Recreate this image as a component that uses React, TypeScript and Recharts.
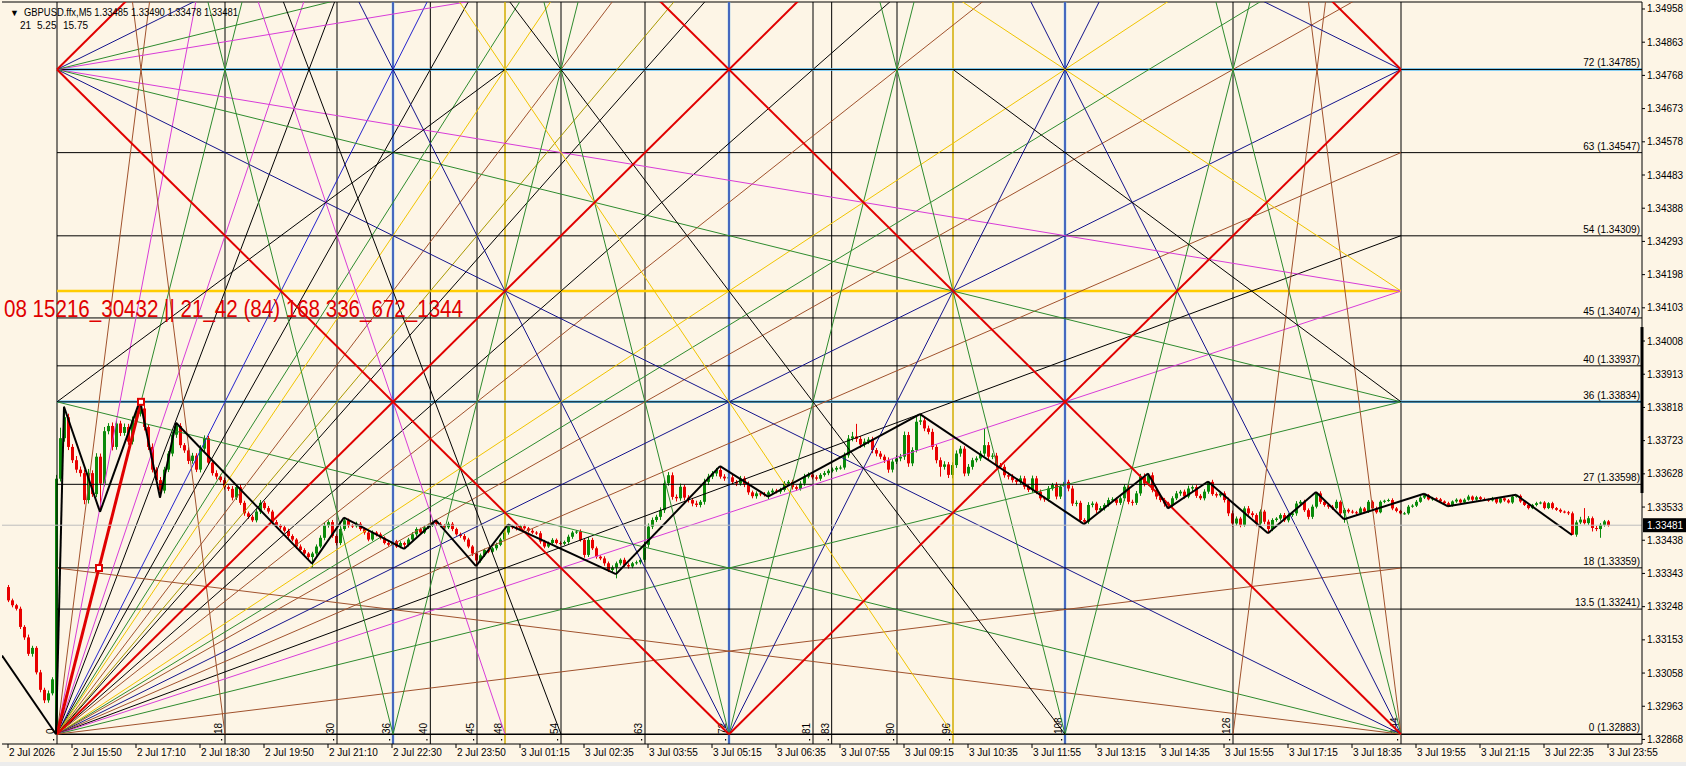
import React from 'react';
import { ComposedChart, Bar, XAxis, YAxis, ReferenceLine, ReferenceDot } from 'recharts';

// ---------------- data ----------------
const symbolHeader = 'GBPUSD.ffx,M5  1.33485 1.33490 1.33478 1.33481';
const subHeader = ['21', '5.25', '15.75'];
const redNote = '08 15216_30432 || 21_42 (84) 168 336_672_1344';

const timeLabels = [
  '2 Jul 2026', '2 Jul 15:50', '2 Jul 17:10', '2 Jul 18:30', '2 Jul 19:50', '2 Jul 21:10', '2 Jul 22:30',
  '2 Jul 23:50', '3 Jul 01:15', '3 Jul 02:35', '3 Jul 03:55', '3 Jul 05:15', '3 Jul 06:35', '3 Jul 07:55',
  '3 Jul 09:15', '3 Jul 10:35', '3 Jul 11:55', '3 Jul 13:15', '3 Jul 14:35', '3 Jul 15:55', '3 Jul 17:15',
  '3 Jul 18:35', '3 Jul 19:55', '3 Jul 21:15', '3 Jul 22:35', '3 Jul 23:55',
];
const timeTickBars = [0, 16, 32, 48, 64, 80, 96, 112, 128, 144, 160, 176, 192, 208, 224, 240, 256, 272, 288, 304, 320, 336, 352, 368, 384, 400];

const priceTicks = [
  1.34958, 1.34863, 1.34768, 1.34673, 1.34578, 1.34483, 1.34388, 1.34293, 1.34198, 1.34103, 1.34008, 1.33913,
  1.33818, 1.33723, 1.33628, 1.33533, 1.33438, 1.33343, 1.33248, 1.33153, 1.33058, 1.32963, 1.32868,
];

const gannTimeMarks = [0, 18, 30, 36, 40, 45, 48, 54, 63, 72, 81, 83, 90, 96, 108, 126, 144];
const gannLevelUnits = [72, 63, 54, 45, 40, 36, 27, 18, 13.5, 0];
const gannLevelPrices = [1.34785, 1.34547, 1.34309, 1.34074, 1.33937, 1.33834, 1.33598, 1.33359, 1.33241, 1.32883];

// closes in points: price = 1 + v / 100000  (33266 -> 1.33266)
const closes = [
  33266, 33252, 33242, 33190, 33160, 33113, 33130, 33060, 33010, 32980,
  33000, 33040, 33614, 33730, 33790, 33705, 33667, 33640, 33630, 33553,
  33630, 33570, 33677, 33600, 33750, 33765, 33705, 33772, 33745, 33762,
  33720, 33780, 33800, 33815, 33762, 33705, 33640, 33610, 33580, 33640,
  33686, 33740, 33765, 33710, 33695, 33665, 33680, 33640, 33700, 33730,
  33660, 33630, 33620, 33610, 33590, 33585, 33560, 33590, 33545, 33515,
  33505, 33495, 33520, 33545, 33530, 33520, 33490, 33480, 33475, 33465,
  33450, 33440, 33420, 33410, 33400, 33390, 33400, 33420, 33445, 33480,
  33490, 33450, 33430, 33470, 33495, 33480, 33478, 33485, 33470, 33460,
  33440, 33460, 33455, 33445, 33430, 33425, 33435, 33420, 33430, 33425,
  33440, 33455, 33470, 33460, 33475, 33480, 33490, 33485, 33480, 33475,
  33485, 33470, 33455, 33450, 33440, 33420, 33400, 33380, 33395, 33410,
  33405, 33415, 33425, 33440, 33460, 33478, 33475, 33470, 33478, 33472,
  33465, 33460, 33458, 33434, 33420, 33430, 33439, 33430, 33428, 33433,
  33448, 33460, 33463, 33439, 33396, 33439, 33415, 33391, 33386, 33372,
  33353, 33360, 33372, 33382, 33367, 33363, 33372, 33375, 33382, 33425,
  33477, 33496, 33505, 33524, 33601, 33624, 33562, 33558, 33591, 33560,
  33553, 33543, 33539, 33548, 33605, 33620, 33629, 33639, 33620, 33615,
  33618, 33605, 33600, 33615, 33598, 33575, 33564, 33572, 33570, 33568,
  33575, 33580, 33577, 33582, 33600, 33605, 33590, 33585, 33600, 33620,
  33626, 33618, 33614, 33625, 33630, 33637, 33640, 33645, 33646, 33681,
  33729, 33735, 33728, 33712, 33720, 33726, 33696, 33686, 33677, 33667,
  33640, 33663, 33672, 33677, 33739, 33658, 33696, 33777, 33781, 33758,
  33748, 33705, 33667, 33648, 33655, 33625, 33653, 33686, 33700, 33629,
  33648, 33667, 33672, 33686, 33710, 33677, 33680, 33653, 33648, 33624,
  33620, 33610, 33605, 33615, 33591, 33582, 33615, 33577, 33558, 33556,
  33586, 33596, 33563, 33591, 33605, 33586, 33543, 33545, 33496, 33491,
  33539, 33543, 33524, 33530, 33539, 33553, 33555, 33545, 33558, 33591,
  33548, 33545, 33572, 33620, 33600, 33624, 33582, 33563, 33553, 33543,
  33538, 33558, 33572, 33577, 33563, 33586, 33590, 33565, 33558, 33577,
  33605, 33570, 33566, 33572, 33553, 33515, 33486, 33500, 33482, 33529,
  33515, 33510, 33486, 33520, 33491, 33470, 33496, 33500, 33510, 33495,
  33510, 33515, 33543, 33548, 33524, 33505, 33534, 33572, 33548, 33539,
  33534, 33530, 33548, 33515, 33525, 33520, 33518, 33515, 33529, 33520,
  33548, 33529, 33518, 33548, 33551, 33553, 33529, 33522, 33515, 33515,
  33534, 33537, 33548, 33560, 33567, 33555, 33558, 33555, 33549, 33544,
  33537, 33549, 33554, 33546, 33554, 33563, 33554, 33561, 33556, 33554,
  33552, 33558, 33546, 33558, 33552, 33546, 33563, 33565, 33549, 33539,
  33530, 33539, 33544, 33546, 33530, 33544, 33530, 33525, 33520, 33518,
  33515, 33454, 33489, 33497, 33487, 33501, 33473, 33470, 33482, 33492,
  33481,
];
const openOverrides = [[0, 33304], [12, 32890]];
const wickUp = [
  6, 5, 4, 6, 5, 8, 6, 5, 7, 6, 8, 6, 6, 30, 30, 10, 8, 12, 9, 10,
  12, 8, 10, 9, 12, 8, 10, 9, 8, 10, 9, 12, 10, 18, 9, 8, 10, 7, 9, 8,
  7, 9, 7, 8, 6, 9, 8, 7, 10, 8, 7, 6, 8, 6, 7, 5, 8, 6, 7, 6,
  5, 6, 7, 8, 5, 6, 5, 6, 4, 5, 6, 5, 4, 6, 5, 4, 5, 6, 7, 8,
  5, 6, 5, 7, 8, 5, 4, 6, 5, 4, 5, 6, 4, 5, 4, 5, 6, 4, 5, 4,
  5, 6, 5, 4, 6, 5, 7, 6, 5, 4, 6, 5, 4, 5, 6, 5, 4, 6, 5, 4,
  5, 4, 6, 5, 6, 5, 4, 5, 4, 5, 4, 5, 4, 6, 5, 4, 5, 4, 5, 4,
  6, 5, 4, 6, 5, 8, 6, 5, 4, 6, 5, 6, 5, 4, 6, 5, 4, 5, 6, 8,
  9, 7, 6, 8, 10, 9, 8, 7, 9, 6, 7, 6, 8, 5, 9, 8, 7, 6, 9, 7,
  6, 8, 5, 7, 6, 8, 5, 6, 5, 6, 5, 6, 5, 6, 7, 5, 6, 5, 7, 8,
  6, 5, 6, 5, 6, 5, 6, 5, 6, 8, 10, 13, 36, 8, 9, 7, 8, 6, 7, 6,
  8, 7, 9, 8, 10, 9, 8, 14, 18, 9, 8, 9, 7, 8, 9, 7, 8, 9, 8, 7,
  8, 7, 6, 8, 48, 9, 7, 8, 6, 7, 8, 7, 6, 8, 7, 6, 8, 7, 6, 5,
  7, 6, 8, 5, 7, 6, 8, 7, 6, 5, 8, 6, 5, 6, 5, 7, 6, 5, 6, 7,
  8, 6, 7, 8, 9, 5, 8, 6, 5, 6, 5, 6, 7, 5, 6, 8, 5, 6, 5, 7,
  1, 6, 5, 4, 6, 7, 8, 6, 5, 6, 7, 6, 5, 6, 5, 6, 5, 4, 5, 6,
  5, 6, 7, 5, 6, 5, 6, 4, 6, 5, 4, 5, 6, 4, 5, 4, 5, 4, 5, 4,
  5, 4, 5, 4, 3, 4, 5, 4, 3, 4, 5, 4, 5, 4, 4, 3, 4, 3, 4, 3,
  4, 3, 4, 3, 4, 5, 3, 4, 3, 4, 3, 4, 3, 4, 3, 4, 5, 3, 4, 3,
  4, 3, 4, 3, 4, 3, 4, 3, 4, 3, 4, 5, 6, 8, 33, 6, 5, 6, 5, 4,
  4,
];
const wickDn = [
  5, 6, 5, 6, 7, 6, 8, 6, 7, 8, 7, 6, 7, 8, 10, 9, 8, 9, 10, 12,
  10, 8, 9, 30, 8, 9, 10, 8, 9, 8, 9, 8, 9, 8, 10, 9, 8, 9, 20, 8,
  7, 8, 9, 8, 7, 9, 8, 7, 8, 9, 6, 7, 8, 6, 7, 6, 8, 7, 6, 7,
  6, 5, 6, 7, 5, 6, 7, 5, 6, 5, 6, 5, 7, 6, 5, 6, 29, 6, 5, 7,
  6, 5, 7, 6, 5, 6, 5, 4, 5, 6, 5, 4, 6, 5, 4, 5, 6, 4, 5, 12,
  5, 4, 6, 5, 4, 5, 4, 6, 5, 4, 5, 6, 4, 5, 6, 5, 7, 16, 6, 5,
  4, 5, 6, 4, 5, 6, 5, 4, 5, 4, 5, 4, 5, 6, 5, 4, 5, 4, 5, 4,
  5, 6, 4, 5, 8, 6, 5, 6, 5, 7, 6, 8, 31, 6, 5, 6, 5, 4, 6, 7,
  8, 7, 6, 9, 8, 7, 8, 9, 7, 8, 7, 8, 6, 7, 8, 9, 7, 8, 6, 7,
  8, 6, 7, 6, 8, 7, 6, 7, 6, 5, 12, 6, 5, 6, 5, 6, 7, 6, 5, 6,
  5, 6, 5, 6, 5, 6, 5, 6, 5, 6, 7, 8, 9, 10, 8, 7, 9, 8, 7, 8,
  9, 8, 7, 8, 9, 10, 8, 7, 9, 8, 7, 8, 9, 28, 8, 9, 10, 8, 9, 8,
  7, 8, 6, 7, 8, 9, 7, 8, 6, 7, 8, 7, 9, 8, 7, 6, 8, 7, 6, 8,
  7, 6, 8, 7, 6, 8, 7, 8, 9, 7, 6, 7, 8, 6, 7, 5, 6, 7, 6, 8,
  7, 8, 6, 7, 8, 6, 7, 8, 6, 9, 9, 6, 5, 7, 6, 5, 7, 6, 5, 6,
  6, 5, 6, 5, 7, 8, 9, 6, 7, 5, 6, 7, 8, 6, 7, 12, 6, 5, 6, 5,
  6, 5, 7, 6, 5, 7, 6, 5, 6, 5, 6, 5, 4, 6, 27, 5, 4, 5, 4, 5,
  4, 5, 4, 3, 4, 3, 5, 4, 3, 4, 4, 3, 4, 3, 4, 3, 4, 3, 4, 5,
  2, 3, 4, 3, 4, 3, 4, 3, 4, 3, 4, 3, 4, 3, 4, 3, 4, 3, 4, 3,
  4, 3, 4, 3, 4, 3, 4, 3, 4, 3, 5, 1, 6, 5, 4, 5, 10, 6, 25, 5,
  4,
];
// [bar, 'H' | 'L', points]
const extremes: Array<[number, string, number]> = [
  [12, 'L', 32883], [12, 'H', 33625], [13, 'H', 33760], [14, 'H', 33820], [15, 'H', 33800], [23, 'L', 33519],
  [33, 'H', 33838], [38, 'L', 33560], [42, 'H', 33774], [76, 'L', 33371], [84, 'H', 33503], [99, 'L', 33413],
  [107, 'H', 33495], [117, 'L', 33364], [125, 'H', 33483], [152, 'L', 33341], [178, 'H', 33650], [190, 'L', 33563],
  [211, 'H', 33748], [212, 'H', 33764], [227, 'H', 33791], [228, 'H', 33799], [233, 'L', 33620], [244, 'H', 33758],
  [269, 'L', 33484], [285, 'H', 33629], [290, 'L', 33529], [300, 'H', 33606], [315, 'L', 33458], [327, 'H', 33576],
  [334, 'L', 33498], [354, 'H', 33571], [360, 'L', 33535], [377, 'H', 33568], [391, 'L', 33453], [394, 'H', 33520],
  [396, 'L', 33463], [398, 'L', 33457],
];
// zigzag vertices [bar, points]
const zigzagPts = [
  [-1.5, 33108], [12, 32883], [14, 33820], [23, 33519], [33, 33838], [38, 33560], [42, 33774], [76, 33371],
  [84, 33503], [99, 33413], [107, 33495], [117, 33364], [125, 33483], [152, 33341], [178, 33650], [190, 33563],
  [228, 33799], [269, 33484], [285, 33629], [290, 33529], [300, 33606], [315, 33458], [327, 33576], [334, 33498],
  [354, 33571], [360, 33535], [377, 33568], [391, 33453],
];
const lastPrice = 1.33481;
const axisRangeBar = [1.34048, 1.33573];

// Gann grid anchors (time units 0..144, price units 0..72)
const gannBar0 = 12.25;
const gannBarsPerUnit = 7 / 3;
const gannPrice0 = 1.32883;
const gannPrice72 = 1.34785;
const originFanTargets = [
  [9, 72], [13.5, 72], [18, 72], [24, 72], [27, 72], [36, 72], [40, 72], [45, 72], [48, 72], [54, 72], [60, 72], [63, 72],
  [81, 72], [90, 72], [108, 72], [117, 72], [126, 72], [144, 72], [144, 63], [144, 54], [144, 48], [144, 36], [144, 18],
];
const originFanColors = [
  'brown', 'pink', 'green', 'pink', 'black', 'blue', 'black', 'green', 'yellow', 'brown', 'olive', 'black',
  'black', 'brown', 'yellow', 'green', 'brown', 'navy', 'brown', 'black', 'pink', 'green', 'brown',
];
const bottomRightFanTargets = [[135, 72], [126, 72], [108, 72], [0, 72], [0, 36], [0, 18]];
const bottomRightFanColors = ['brown', 'green', 'navy', 'navy', 'green', 'brown'];
const topLeftFanTargets = [[144, 48], [144, 36], [144, 96], [144, 108], [144, 144]];
const topLeftFanColors = ['pink', 'green', 'pink', 'green', 'navy'];
const redDiagonals = [[0, 0, 72, 72], [144, 0, 72, 72], [0, 72, 72, 0], [72, 0, 144, 72], [0, 72, 72, 144], [144, 72, 72, 144]];
// [from time on 0-line, to time on 72-line]
const bottomRays = [
  [18, 9], [36, 18], [36, 54], [48, 24], [54, 27], [72, 36], [72, 108], [72, 54], [72, 90], [96, 48],
  [108, 90], [108, 126], [108, 54], [126, 135],
];
const bottomRayColors = [
  'brown', 'green', 'green', 'pink', 'black', 'navy', 'navy', 'green', 'green', 'yellow',
  'green', 'green', 'black', 'brown',
];
const extraRays = [[144, 48, 108, 72]];
const extraRayColors = ['yellow'];
const extraSegments = [[96, 72, 144, 36], [48, 72, 0, 36], [144, 72, 0, 144]];
const extraColors = ['black', 'black', 'navy'];

// ---------------- styles ----------------
const BG = '#FDF5E6';
const FONT = '"Liberation Sans", Arial, sans-serif';
const PAL: Record<string, string> = {
  red: '#E00000', navy: '#14148C', blue: '#2424CC', green: '#2E8B2E', pink: '#D83CD8',
  brown: '#A0522D', yellow: '#F0C400', olive: '#A89800', black: '#000000',
};
const UP = '#0A8A0A';
const DN = '#E80000';

// ---------------- derived ----------------
const pts = (v: number) => (100000 + v) / 100000;
const candles = closes.map((c, i) => {
  const ov = openOverrides.find((o) => o[0] === i);
  const o = ov ? ov[1] : closes[i - 1];
  let h = Math.max(o, c) + (wickUp[i] ?? 0);
  let l = Math.min(o, c) - (wickDn[i] ?? 0);
  extremes.forEach(([b, k, p]) => {
    if (b === i) {
      if (k === 'H') h = Math.max(h, p);
      else l = Math.min(l, p);
    }
  });
  return { bar: i, open: pts(o), close: pts(c), high: pts(h), low: pts(l), range: [pts(l), pts(h)] };
});

const gx = (t: number) => gannBar0 + t * gannBarsPerUnit;
const gy = (v: number) => gannPrice0 + (v * (gannPrice72 - gannPrice0)) / 72;

type Seg = { t0: number; v0: number; t1: number; v1: number; color: string; w: number };
const segs: Seg[] = [];
const addRay = (t0: number, v0: number, t1: number, v1: number, color: string, w = 1) => {
  const dt = t1 - t0;
  const dv = v1 - v0;
  let s = Infinity;
  if (dt > 0) s = Math.min(s, (144 - t0) / dt);
  else if (dt < 0) s = Math.min(s, (0 - t0) / dt);
  if (dv < 0) s = Math.min(s, (0 - v0) / dv);
  else if (dv > 0) s = Math.min(s, (110 - v0) / dv);
  segs.push({ t0, v0, t1: t0 + s * dt, v1: v0 + s * dv, color, w });
};
originFanTargets.forEach(([t, v], i) => addRay(0, 0, t, v, PAL[originFanColors[i]]));
bottomRightFanTargets.forEach(([t, v], i) => addRay(144, 0, t, v, PAL[bottomRightFanColors[i]]));
topLeftFanTargets.forEach(([t, v], i) => addRay(0, 72, t, v, PAL[topLeftFanColors[i]]));
bottomRays.forEach(([a, b], i) => addRay(a, 0, b, 72, PAL[bottomRayColors[i]]));
extraRays.forEach(([a, b, c, d], i) => addRay(a, b, c, d, PAL[extraRayColors[i]]));
extraSegments.forEach(([a, b, c, d], i) => segs.push({ t0: a, v0: b, t1: c, v1: d, color: PAL[extraColors[i]], w: 1 }));
redDiagonals.forEach(([a, b, c, d]) => addRay(a, b, c, d, PAL.red, 2));

const vColor = (T: number) => (T === 36 || T === 72 || T === 108 ? '#101090' : T === 48 || T === 96 ? '#D2AC00' : '#000');

// ---------------- render helpers ----------------
const Candle = (props: any) => {
  const { x, y, width, height, payload } = props;
  if (x == null || y == null || !payload || !isFinite(x) || !isFinite(y)) return null;
  const top = Math.min(y, y + height);
  const bot = Math.max(y, y + height);
  const span = payload.high - payload.low;
  const k = span > 0 ? (bot - top) / span : 0;
  const py = (p: number) => top + (payload.high - p) * k;
  const col = payload.close >= payload.open ? UP : DN;
  const cx = Math.round(x + width / 2) + 0.5;
  const bTop = py(Math.max(payload.open, payload.close));
  const bBot = py(Math.min(payload.open, payload.close));
  return (
    <g>
      <line x1={cx} x2={cx} y1={top} y2={bot} stroke={col} strokeWidth={1} />
      <rect x={cx - 1.5} y={bTop} width={3} height={Math.max(1, bBot - bTop)} fill={col} />
    </g>
  );
};

const XTick = (props: any) => {
  const { x, y, index } = props;
  return (
    <g>
      <line x1={x} x2={x} y1={y} y2={y + 4} stroke="#000" />
      <text x={x + 1} y={y + 12} fontSize={10} fontFamily={FONT} fill="#000" textAnchor="start">
        {timeLabels[index]}
      </text>
    </g>
  );
};

const YTick = (props: any) => {
  const { x, y, payload } = props;
  return (
    <text x={x} y={y + 3.5} fontSize={10} fontFamily={FONT} fill="#000" textAnchor="start">
      {Number(payload.value).toFixed(5)}
    </text>
  );
};

const vLabel = (txt: string) => (p: any) => {
  const vb = p.viewBox || {};
  const x = vb.x - 3;
  const yb = vb.y + vb.height - 10;
  return (
    <g>
      <text x={x} y={yb} transform={`rotate(-90 ${x} ${yb})`} fontSize={10} fontFamily={FONT} fill="#000">
        {txt}
      </text>
      <rect x={vb.x - 4} y={vb.y + vb.height - 5} width={1.2} height={1.5} fill="#000" />
    </g>
  );
};

const levelLabel = (txt: string) => (p: any) => {
  const vb = p.viewBox || {};
  return (
    <text x={vb.x + vb.width - 2} y={vb.y - 3} fontSize={10} fontFamily={FONT} fill="#000" textAnchor="end">
      {txt}
    </text>
  );
};

const priceBox = (p: any) => {
  const vb = p.viewBox || {};
  const x = vb.x + vb.width + 1;
  return (
    <g>
      <rect x={x} y={vb.y - 7} width={43} height={14} fill="#000" />
      <text x={x + 4} y={vb.y + 3.5} fontSize={10} fontFamily={FONT} fill="#fff">
        {lastPrice.toFixed(5)}
      </text>
    </g>
  );
};

const markerShape = (p: any) => (
  <rect x={p.cx - 3} y={p.cy - 3} width={6} height={6} fill="#fff" stroke={PAL.red} strokeWidth={2} />
);

export default function App() {
  return (
    <div style={{ position: 'absolute', left: 0, top: 0, width: 1686, height: 766, background: BG, overflow: 'hidden' }}>
      <ComposedChart width={1686} height={766} data={candles} margin={{ top: 2, right: 0, bottom: 0, left: 2 }}>
        <XAxis
          dataKey="bar"
          type="number"
          domain={[-1.5, 408.5]}
          allowDataOverflow
          ticks={timeTickBars}
          interval={0}
          height={22}
          tickLine={false}
          tickSize={0}
          tickMargin={0}
          axisLine={{ stroke: '#000' }}
          tick={<XTick />}
        />
        <YAxis
          orientation="right"
          type="number"
          domain={[1.32855, 1.34978]}
          allowDataOverflow
          ticks={priceTicks}
          interval={0}
          width={44}
          tickSize={3}
          tickMargin={2}
          tickLine={{ stroke: '#000' }}
          axisLine={{ stroke: '#000' }}
          tick={<YTick />}
        />

        <ReferenceLine y={1.34978} stroke="#000" ifOverflow="visible" />

        <Bar dataKey="range" barSize={3} shape={Candle} isAnimationActive={false} />

        {gannTimeMarks.map((T) => {
          const c = vColor(T);
          return [
            c === '#101090' ? (
              <ReferenceLine key={'vb' + T} x={gx(T)} stroke="#7CC0EE" strokeWidth={2.5} ifOverflow="hidden" />
            ) : null,
            <ReferenceLine
              key={'v' + T}
              x={gx(T)}
              stroke={c}
              strokeWidth={c === '#D2AC00' ? 1.5 : 1}
              ifOverflow="hidden"
              label={vLabel(String(T))}
            />,
          ];
        })}

        {gannLevelUnits.map((u, i) => {
          const p = gannLevelPrices[i];
          const special = u === 36 || u === 72;
          return [
            special ? (
              <ReferenceLine
                key={'hb' + u}
                segment={[{ x: gx(0), y: p }, { x: 408.5, y: p }]}
                stroke="#5EC2F7"
                strokeWidth={2.5}
                ifOverflow="hidden"
              />
            ) : null,
            <ReferenceLine
              key={'h' + u}
              segment={[{ x: gx(0), y: p }, { x: 408.5, y: p }]}
              stroke="#000"
              strokeWidth={u === 0 ? 1.5 : 1}
              ifOverflow="hidden"
              label={levelLabel(`${u} (${p.toFixed(5)})`)}
            />,
          ];
        })}

        <ReferenceLine
          segment={[{ x: gx(0), y: gy(48) }, { x: gx(144), y: gy(48) }]}
          stroke="#FFCC00"
          strokeWidth={2.5}
          ifOverflow="hidden"
        />

        {segs.map((s, i) => (
          <ReferenceLine
            key={'g' + i}
            segment={[{ x: gx(s.t0), y: gy(s.v0) }, { x: gx(s.t1), y: gy(s.v1) }]}
            stroke={s.color}
            strokeWidth={s.w}
            ifOverflow="hidden"
          />
        ))}

        <ReferenceLine
          segment={[{ x: gx(0), y: gy(0) }, { x: gx(9), y: gy(36) }]}
          stroke={PAL.red}
          strokeWidth={3}
          ifOverflow="hidden"
        />
        <ReferenceDot x={gx(4.5)} y={gy(18)} r={3} shape={markerShape} ifOverflow="hidden" />
        <ReferenceDot x={gx(9)} y={gy(36)} r={3} shape={markerShape} ifOverflow="hidden" />

        {zigzagPts.slice(1).map(([b, p], i) => (
          <ReferenceLine
            key={'z' + i}
            segment={[{ x: zigzagPts[i][0], y: pts(zigzagPts[i][1]) }, { x: b, y: pts(p) }]}
            stroke="#000"
            strokeWidth={2}
            ifOverflow="hidden"
          />
        ))}

        <ReferenceLine y={lastPrice} stroke="#BDBDBD" strokeWidth={1} label={priceBox} />
        <ReferenceLine
          segment={[{ x: 408.5, y: axisRangeBar[0] }, { x: 408.5, y: axisRangeBar[1] }]}
          stroke="#000"
          strokeWidth={3}
          ifOverflow="visible"
        />
      </ComposedChart>

      <svg style={{ position: 'absolute', left: 0, top: 0 }} width={520} height={330}>
        <text x={10} y={16} fontSize={9} fontFamily={FONT} fill="#000">▼</text>
        <text x={24} y={16} fontSize={10} fontFamily={FONT} fill="#000" textLength={214} lengthAdjust="spacingAndGlyphs">
          {symbolHeader}
        </text>
        <text x={20} y={29} fontSize={10} fontFamily={FONT} fill="#000">{subHeader[0]}</text>
        <text x={37} y={29} fontSize={10} fontFamily={FONT} fill="#000">{subHeader[1]}</text>
        <text x={63} y={29} fontSize={10} fontFamily={FONT} fill="#000">{subHeader[2]}</text>
        <text
          x={4}
          y={317}
          fontSize={23}
          fontFamily={'"Liberation Sans Narrow", "Arial Narrow", "Liberation Sans", sans-serif'}
          fill="#E00000"
          textLength={459}
          lengthAdjust="spacingAndGlyphs"
        >
          {redNote}
        </text>
      </svg>
      <div style={{ position: 'absolute', left: 0, top: 762, width: 1686, height: 4, background: '#ECECEC' }} />
    </div>
  );
}
